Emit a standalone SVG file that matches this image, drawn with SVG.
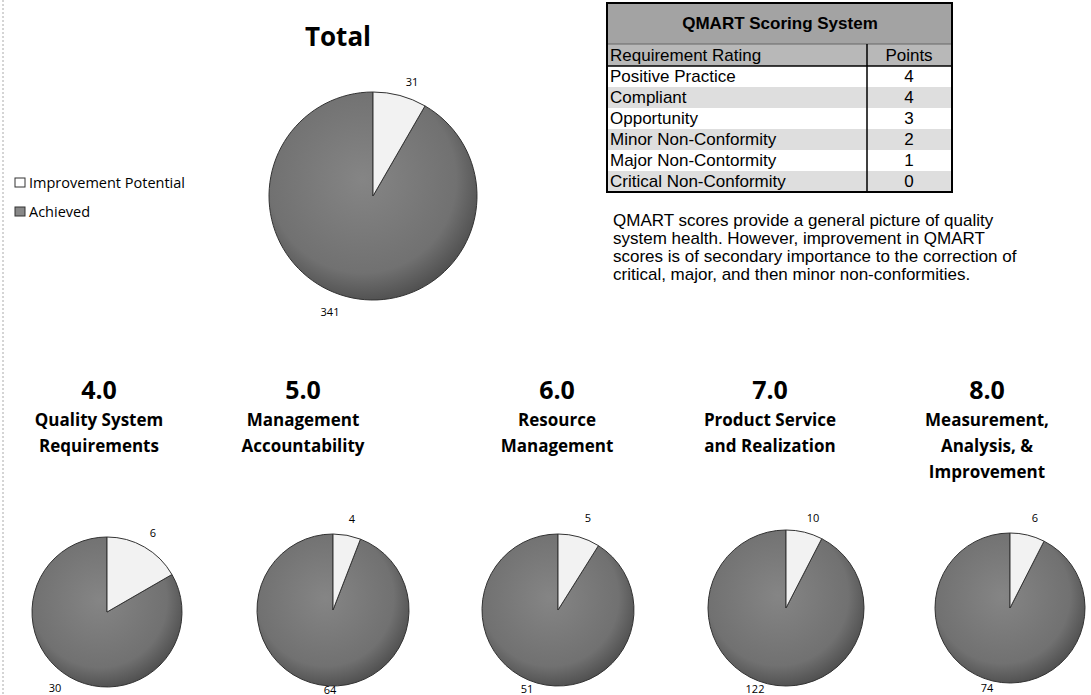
<svg xmlns="http://www.w3.org/2000/svg" width="1091" height="695" viewBox="0 0 1091 695">
<style>
.ttl{font-family:"Open Sans","Liberation Sans",sans-serif;font-weight:bold;fill:#000;text-anchor:middle}
.num{font-size:25px}
.sub{font-size:17px}
.lbl{font-family:"Open Sans","Liberation Sans",sans-serif;font-size:11px;fill:#000;text-anchor:middle}
.leg{font-family:"Open Sans","Liberation Sans",sans-serif;font-size:14.5px;fill:#000}
.tb{font-family:"Liberation Sans",Arial,sans-serif;font-size:17px;fill:#000}
.par{font-family:"Liberation Sans",Arial,sans-serif;font-size:17px;fill:#000}
.ach{fill:url(#pieGrad);stroke:#333;stroke-width:1}
.imp{fill:#f2f2f2;stroke:#333;stroke-width:1}
</style>
<defs>
<radialGradient id="pieGrad" cx="0.45" cy="0.42" r="0.6">
<stop offset="0" stop-color="#858585"/>
<stop offset="0.75" stop-color="#717171"/>
<stop offset="1" stop-color="#4e4e4e"/>
</radialGradient>
</defs>
<rect width="1091" height="695" fill="#fff"/>
<line x1="3" y1="0" x2="3" y2="695" stroke="#aaa" stroke-width="1" stroke-dasharray="2,2"/>

<g id="legend">
<rect x="15" y="178" width="10" height="9" fill="#fff" stroke="#333"/>
<text class="leg" x="29" y="188">Improvement Potential</text>
<rect x="15" y="207" width="10" height="9" fill="#888" stroke="#333"/>
<text class="leg" x="29" y="217">Achieved</text>
</g>

<g id="total">
<text class="ttl" x="338" y="46" font-size="26">Total</text>
<path class="ach" d="M373,196 L425,105.93 A104,104 0 1 1 373,92 Z"/>
<path class="imp" d="M373,196 L373,92 A104,104 0 0 1 425,105.93 Z"/>
<text class="lbl" x="412" y="86" font-size="13">31</text>
<text class="lbl" x="330" y="316" font-size="13">341</text>
</g>

<g id="qmart-table">
<rect x="607" y="3" width="345" height="41" fill="#a3a3a3"/>
<rect x="607" y="44" width="345" height="22" fill="#b8b8b8"/>
<rect x="607" y="87" width="345" height="21" fill="#dedede"/>
<rect x="607" y="129" width="345" height="21" fill="#dedede"/>
<rect x="607" y="171" width="345" height="21" fill="#dedede"/>
<line x1="607" y1="44" x2="952" y2="44" stroke="#666" stroke-width="1"/>
<line x1="607" y1="66" x2="952" y2="66" stroke="#000" stroke-width="1.5"/>
<line x1="867" y1="44" x2="867" y2="192" stroke="#000" stroke-width="1.5"/>
<rect x="607" y="3" width="345" height="189" fill="none" stroke="#000" stroke-width="2"/>
<text class="tb" x="780" y="29" font-size="20" font-weight="bold" text-anchor="middle">QMART Scoring System</text>
<text class="tb" x="610" y="61">Requirement Rating</text>
<text class="tb" x="909" y="61" text-anchor="middle">Points</text>
<text class="tb" x="610" y="82">Positive Practice</text>
<text class="tb" x="610" y="103">Compliant</text>
<text class="tb" x="610" y="124">Opportunity</text>
<text class="tb" x="610" y="145">Minor Non-Conformity</text>
<text class="tb" x="610" y="166">Major Non-Contormity</text>
<text class="tb" x="610" y="187">Critical Non-Conformity</text>
<text class="tb" x="909" y="82" text-anchor="middle">4</text>
<text class="tb" x="909" y="103" text-anchor="middle">4</text>
<text class="tb" x="909" y="124" text-anchor="middle">3</text>
<text class="tb" x="909" y="145" text-anchor="middle">2</text>
<text class="tb" x="909" y="166" text-anchor="middle">1</text>
<text class="tb" x="909" y="187" text-anchor="middle">0</text>
</g>

<g id="note">
<text class="par" x="613" y="226">QMART scores provide a general picture of quality</text>
<text class="par" x="613" y="244">system health.  However, improvement in QMART</text>
<text class="par" x="613" y="262">scores is of secondary importance to the correction of</text>
<text class="par" x="613" y="280">critical, major, and then minor non-conformities.</text>
</g>

<g id="chart-4">
<text class="ttl num" x="99" y="399">4.0</text>
<text class="ttl sub" x="99" y="426">Quality System</text>
<text class="ttl sub" x="99" y="452">Requirements</text>
<path class="ach" d="M107,612 L171.95,574.5 A75,75 0 1 1 107,537 Z"/>
<path class="imp" d="M107,612 L107,537 A75,75 0 0 1 171.95,574.5 Z"/>
<text class="lbl" x="153" y="537">6</text>
<text class="lbl" x="55" y="692">30</text>
</g>

<g id="chart-5">
<text class="ttl num" x="303" y="399">5.0</text>
<text class="ttl sub" x="303" y="426">Management</text>
<text class="ttl sub" x="303" y="452">Accountability</text>
<path class="ach" d="M333,610 L360.46,539.13 A76,76 0 1 1 333,534 Z"/>
<path class="imp" d="M333,610 L333,534 A76,76 0 0 1 360.46,539.13 Z"/>
<text class="lbl" x="352" y="523">4</text>
<text class="lbl" x="330" y="694">64</text>
</g>

<g id="chart-6">
<text class="ttl num" x="557" y="399">6.0</text>
<text class="ttl sub" x="557" y="426">Resource</text>
<text class="ttl sub" x="557" y="452">Management</text>
<path class="ach" d="M558,610 L598.43,545.65 A76,76 0 1 1 558,534 Z"/>
<path class="imp" d="M558,610 L558,534 A76,76 0 0 1 598.43,545.65 Z"/>
<text class="lbl" x="588" y="522">5</text>
<text class="lbl" x="527" y="693">51</text>
</g>

<g id="chart-7">
<text class="ttl num" x="770" y="399">7.0</text>
<text class="ttl sub" x="770" y="426">Product Service</text>
<text class="ttl sub" x="770" y="452">and Realization</text>
<path class="ach" d="M786,608 L821.74,538.67 A78,78 0 1 1 786,530 Z"/>
<path class="imp" d="M786,608 L786,530 A78,78 0 0 1 821.74,538.67 Z"/>
<text class="lbl" x="813" y="522">10</text>
<text class="lbl" x="755" y="693">122</text>
</g>

<g id="chart-8">
<text class="ttl num" x="987" y="399">8.0</text>
<text class="ttl sub" x="987" y="426">Measurement,</text>
<text class="ttl sub" x="987" y="452">Analysis, &amp;</text>
<text class="ttl sub" x="987" y="478">Improvement</text>
<path class="ach" d="M1010,608 L1044.05,541.17 A75,75 0 1 1 1010,533 Z"/>
<path class="imp" d="M1010,608 L1010,533 A75,75 0 0 1 1044.05,541.17 Z"/>
<text class="lbl" x="1035" y="522">6</text>
<text class="lbl" x="987" y="692">74</text>
</g>
</svg>
